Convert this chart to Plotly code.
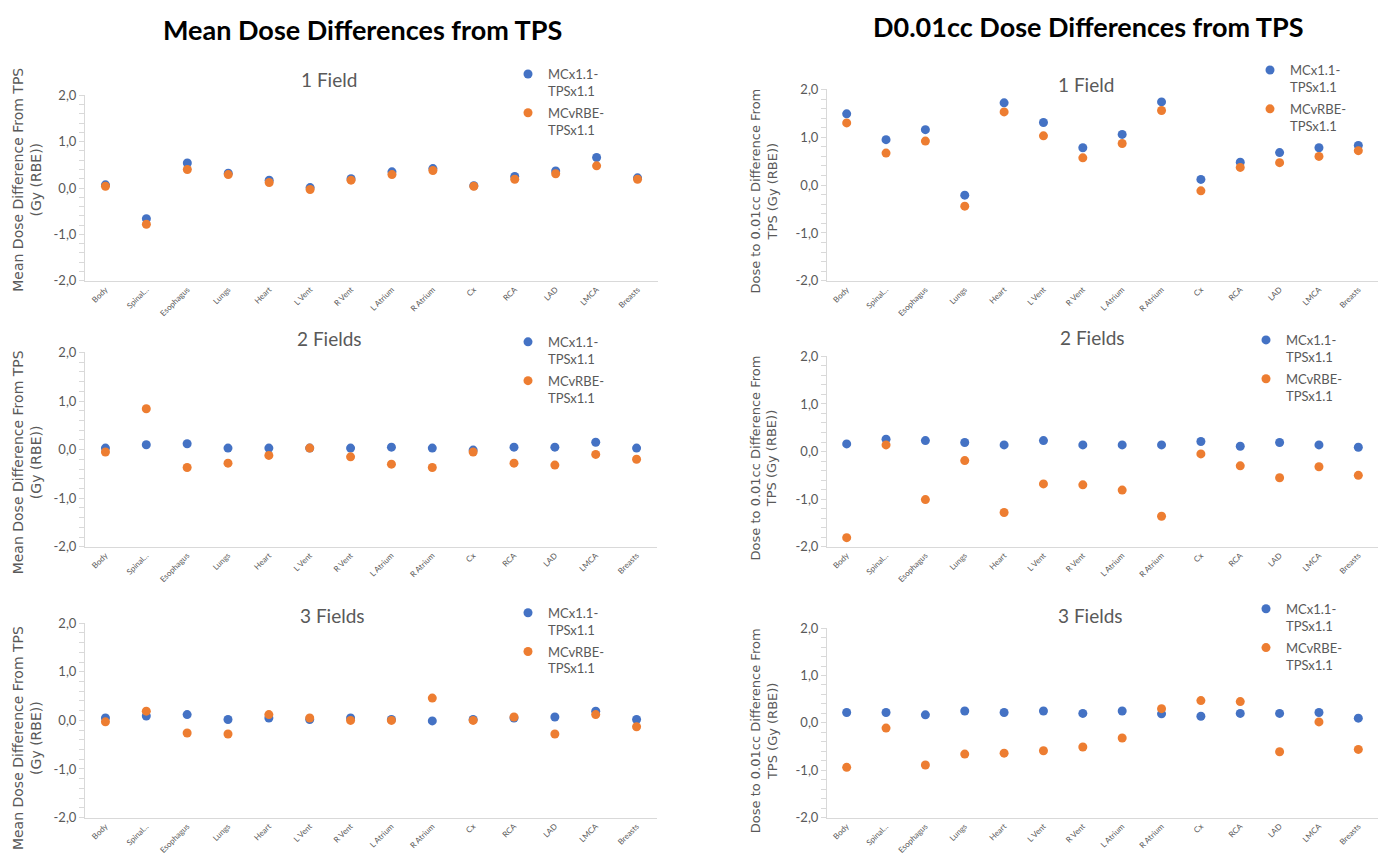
import plotly.graph_objects as go

# ---------------- data ----------------
categories = ["Body", "Spinal…", "Esophagus", "Lungs", "Heart", "L Vent", "R Vent",
              "L Atrium", "R Atrium", "Cx", "RCA", "LAD", "LMCA", "Breasts"]

series_names = ["MCx1.1-<br>TPSx1.1", "MCvRBE-<br>TPSx1.1"]
panel_titles = ["1 Field", "2 Fields", "3 Fields"]
column_titles = ["Mean Dose Differences from TPS", "D0.01cc Dose Differences from TPS"]
ytitle_mean = "Mean Dose Difference From TPS<br>(Gy (RBE))"
ytitle_d001 = "Dose to 0.01cc Difference From<br>TPS (Gy (RBE))"
y_tickvals = [-2, -1, 0, 1, 2]
y_ticktext = ["-2,0", "-1,0", "0,0", "1,0", "2,0"]

# Mean dose differences
mean_1f_mcx11 = [0.07, -0.66, 0.54, 0.32, 0.17, 0.01, 0.20, 0.35, 0.42, 0.05, 0.25, 0.37, 0.66, 0.22]
mean_1f_mcvrbe = [0.04, -0.78, 0.40, 0.29, 0.12, -0.03, 0.17, 0.29, 0.38, 0.04, 0.19, 0.31, 0.48, 0.19]
mean_2f_mcx11 = [0.03, 0.10, 0.12, 0.03, 0.03, 0.03, 0.03, 0.05, 0.03, -0.01, 0.05, 0.05, 0.15, 0.03]
mean_2f_mcvrbe = [-0.05, 0.84, -0.37, -0.28, -0.12, 0.03, -0.15, -0.30, -0.37, -0.05, -0.28, -0.32, -0.10, -0.20]
mean_3f_mcx11 = [0.05, 0.09, 0.12, 0.02, 0.05, 0.02, 0.05, 0.02, -0.01, 0.02, 0.05, 0.07, 0.19, 0.02]
mean_3f_mcvrbe = [-0.03, 0.19, -0.26, -0.28, 0.12, 0.05, 0.00, 0.00, 0.46, 0.00, 0.07, -0.28, 0.12, -0.13]

# D0.01cc dose differences
d001_1f_mcx11 = [1.49, 0.95, 1.16, -0.21, 1.72, 1.31, 0.78, 1.06, 1.74, 0.12, 0.48, 0.68, 0.78, 0.83]
d001_1f_mcvrbe = [1.30, 0.67, 0.92, -0.44, 1.53, 1.03, 0.57, 0.87, 1.56, -0.12, 0.37, 0.47, 0.60, 0.72]
d001_2f_mcx11 = [0.16, 0.26, 0.23, 0.19, 0.14, 0.23, 0.14, 0.14, 0.14, 0.21, 0.11, 0.19, 0.14, 0.09]
d001_2f_mcvrbe = [-1.81, 0.14, -1.01, -0.19, -1.28, -0.68, -0.70, -0.81, -1.36, -0.05, -0.30, -0.55, -0.32, -0.50]
d001_3f_mcx11 = [0.22, 0.22, 0.17, 0.25, 0.22, 0.25, 0.20, 0.25, 0.19, 0.14, 0.20, 0.20, 0.22, 0.10]
d001_3f_mcvrbe = [-0.94, -0.11, -0.89, -0.66, -0.64, -0.59, -0.51, -0.32, 0.30, 0.47, 0.45, -0.61, 0.02, -0.56]

# ---------------- layout helpers ----------------
W, H = 1384, 855
BLUE, ORANGE = "#4472C4", "#ED7D31"
GRAY_TXT = "#595959"
FONT = "Lato, Open Sans, sans-serif"


def px_x(p):
    return p / W


def px_y(p):
    return 1 - p / H


# (series1, series2, x-domain px, y-domain px(top,bottom), title center px, legend pos px, ytitle center px)
panels = [
    (mean_1f_mcx11, mean_1f_mcvrbe, (85, 658), (89, 278), (329, 73), (508, 52), (27, 175), ytitle_mean, panel_titles[0], 14),
    (mean_2f_mcx11, mean_2f_mcvrbe, (85, 657), (351, 549), (329, 337), (508, 325), (27, 463), ytitle_mean, panel_titles[1], 14),
    (mean_3f_mcx11, mean_3f_mcvrbe, (85, 657), (627, 825), (332, 619), (508, 601), (27, 744), ytitle_mean, panel_titles[2], 14),
    (d001_1f_mcx11, d001_1f_mcvrbe, (827, 1378), (83, 278), (1086, 78), (1250, 48), (764, 187), ytitle_d001, panel_titles[0], 13),
    (d001_2f_mcx11, d001_2f_mcvrbe, (827, 1378), (355, 549), (1092, 336), (1246, 323), (764, 459), ytitle_d001, panel_titles[1], 13),
    (d001_3f_mcx11, d001_3f_mcvrbe, (827, 1378), (632, 825), (1090, 619), (1246, 597), (764, 737), ytitle_d001, panel_titles[2], 13),
]

fig = go.Figure()
layout_upd = {}
annotations = []

for i, (s1, s2, xd, yd, tpos, lpos, ytpos, ytitle, ptitle, ytsize) in enumerate(panels):
    n = i + 1
    xa = "x" if n == 1 else f"x{n}"
    ya = "y" if n == 1 else f"y{n}"
    lg = "legend" if n == 1 else f"legend{n}"
    for vals, name, col in ((s1, series_names[0], BLUE), (s2, series_names[1], ORANGE)):
        fig.add_trace(go.Scatter(
            x=categories, y=vals, mode="markers", name=name,
            marker=dict(color=col, size=9, line=dict(width=0)),
            xaxis=xa, yaxis=ya, legend=lg, legendgroup=f"{n}{name}",
            cliponaxis=False,
        ))
    xkey = "xaxis" if n == 1 else f"xaxis{n}"
    ykey = "yaxis" if n == 1 else f"yaxis{n}"
    layout_upd[xkey] = dict(
        domain=[px_x(xd[0]), px_x(xd[1])], anchor=ya, type="category",
        range=[-0.5, 13.5], showgrid=False, zeroline=False,
        showline=True, linecolor="#D9D9D9", linewidth=1,
        ticks="", tickangle=-45, tickfont=dict(family=FONT, size=8, color=GRAY_TXT),
    )
    layout_upd[ykey] = dict(
        domain=[px_y(yd[1]), px_y(yd[0])], anchor=xa, range=[-2, 2],
        showgrid=False, zeroline=False, showline=True, linecolor="#D9D9D9", linewidth=1,
        tickvals=y_tickvals, ticktext=y_ticktext, ticks="outside", ticklen=5,
        tickcolor="#D9D9D9", tickfont=dict(family=FONT, size=13, color=GRAY_TXT),
        minor=dict(ticks="outside", dtick=0.2, ticklen=5, tickcolor="#D9D9D9"),
    )
    layout_upd[lg] = dict(
        x=px_x(lpos[0]), y=px_y(lpos[1]), xanchor="left", yanchor="top",
        bgcolor="rgba(0,0,0,0)", font=dict(family=FONT, size=13, color=GRAY_TXT),
        itemwidth=30, tracegroupgap=2, valign="top",
    )
    annotations.append(dict(
        text=ptitle, x=px_x(tpos[0]), y=px_y(tpos[1]), xref="paper", yref="paper",
        xanchor="center", yanchor="middle", showarrow=False,
        font=dict(family=FONT, size=19, color=GRAY_TXT),
    ))
    annotations.append(dict(
        text=ytitle, x=px_x(ytpos[0]), y=px_y(ytpos[1]), xref="paper", yref="paper",
        xanchor="center", yanchor="middle", showarrow=False, textangle=-90,
        font=dict(family="DejaVu Sans, sans-serif", size=ytsize, color=GRAY_TXT),
    ))

annotations.append(dict(
    text="<b>" + column_titles[0] + "</b>", x=px_x(362), y=px_y(22), xref="paper", yref="paper",
    xanchor="center", yanchor="middle", showarrow=False,
    font=dict(family=FONT, size=27, color="#000000"),
))
annotations.append(dict(
    text="<b>" + column_titles[1] + "</b>", x=px_x(1088), y=px_y(19), xref="paper", yref="paper",
    xanchor="center", yanchor="middle", showarrow=False,
    font=dict(family=FONT, size=27, color="#000000"),
))

fig.update_layout(
    width=W, height=H, margin=dict(l=0, r=0, t=0, b=0),
    paper_bgcolor="white", plot_bgcolor="white",
    annotations=annotations, **layout_upd,
)

fig.write_html("out.html")
